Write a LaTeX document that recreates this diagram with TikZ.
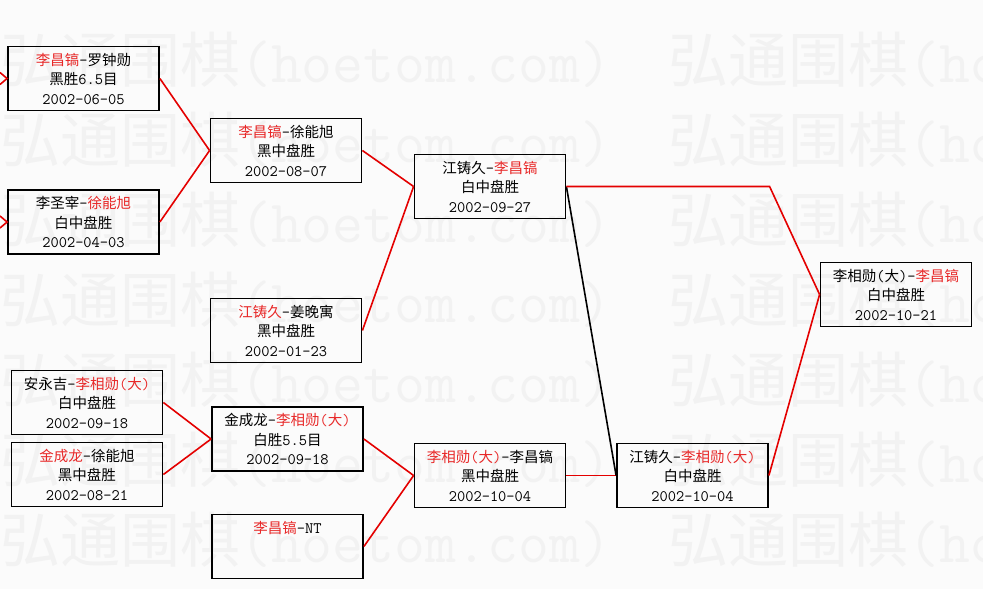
\documentclass[tikz,border=0pt]{standalone}
\usepackage{fontspec}
\setmainfont{Noto Sans CJK SC}
\usepackage{xcolor}
\usetikzlibrary{positioning}

\definecolor{winred}{RGB}{232,40,40}
\definecolor{linered}{RGB}{228,0,0}
\definecolor{paper}{RGB}{251,251,251}
\definecolor{wmgray}{RGB}{242,242,242}
\newcommand{\winner}[1]{\textcolor{winred}{#1}}
\newcommand{\asc}[1]{{\fontsize{16}{19.5}\selectfont\ttfamily #1}}

\tikzset{
  game/.style={draw, line width=1.8pt, minimum width=151pt, minimum height=64pt,
    inner sep=0pt, align=center, font=\fontsize{14.5}{19.5}\selectfont},
  win/.style={draw=linered, line width=1.6pt},
  lose/.style={draw=black, line width=1.6pt},
  wmark/.style={text=wmgray, anchor=west, inner sep=0pt, font=\fontsize{60}{60}\selectfont}
}

\begin{document}
\begin{tikzpicture}[x=1pt, y=1pt, node distance=200pt, on grid]
   \useasboundingbox (0,0) rectangle (983,-589);
   \fill[paper] (0,0) rectangle (983,-589);
   % watermark
   \foreach \r in {0,...,6}
     \foreach \c in {0,668}
       \node[wmark] (wm-\r-\c) at (\c,-60-80*\r) {弘通围棋\texttt{(hoetom.com)}};

   \node[game] (A) at (83.5,-78.5) {\winner{李昌镐}\asc{-}罗钟勋\\黑胜\asc{6.5}目\\\asc{2002-06-05}};
   \node[game] (B) [below=143.5pt of A] {李圣宰\asc{-}\winner{徐能旭}\\白中盘胜\\\asc{2002-04-03}};
   \node[game] (C) [below right=72pt and 202.5pt of A] {\winner{李昌镐}\asc{-}徐能旭\\黑中盘胜\\\asc{2002-08-07}};
   \node[game] (D) [below=180pt of C] {\winner{江铸久}\asc{-}姜晚寓\\黑中盘胜\\\asc{2002-01-23}};
   \node[game] (E) [below right=36pt and 204pt of C] {江铸久\asc{-}\winner{李昌镐}\\白中盘胜\\\asc{2002-09-27}};
   \node[game] (G) at (87,-402.5) {安永吉\asc{-}\winner{李相勋\asc{(}大\asc{)}}\\白中盘胜\\\asc{2002-09-18}};
   \node[game] (H) [below=72pt of G] {\winner{金成龙}\asc{-}徐能旭\\黑中盘胜\\\asc{2002-08-21}};
   \node[game] (I) [below right=36.5pt and 200.5pt of G] {金成龙\asc{-}\winner{李相勋\asc{(}大\asc{)}}\\白胜\asc{5.5}目\\\asc{2002-09-18}};
   \node[game] (J) [below=107.5pt of I] {\winner{李昌镐}\asc{-NT}\\~\\~};
   \node[game] (K) [below right=36.5pt and 202.5pt of I] {\winner{李相勋\asc{(}大\asc{)}}\asc{-}李昌镐\\黑中盘胜\\\asc{2002-10-04}};
   \node[game] (L) [right=202.5pt of K] {江铸久\asc{-}\winner{李相勋\asc{(}大\asc{)}}\\白中盘胜\\\asc{2002-10-04}};
   \node[game] (F) [above right=181pt and 203.5pt of L] {李相勋\asc{(}大\asc{)-}\winner{李昌镐}\\白中盘胜\\\asc{2002-10-21}};

   % earlier rounds off the left edge
   \coordinate (inA1) at (0,-72.5);
   \coordinate (inA2) at (0,-84.5);
   \coordinate (inB1) at (0,-216);
   \coordinate (inB2) at (0,-228);
   \coordinate (bend) at ([xshift=-50pt]F.west);

   \draw[win] (inA1) -- (A.west) -- (inA2);
   \draw[win] (inB1) -- (B.west) -- (inB2);
   \draw[win] (A.east) -- (C.west);
   \draw[win] (B.east) -- (C.west);
   \draw[win] (C.east) -- (E.west);
   \draw[win] (D.east) -- (E.west);
   \draw[win] (G.east) -- (I.west);
   \draw[win] (H.east) -- (I.west);
   \draw[win] (I.east) -- (K.west);
   \draw[win] (J.east) -- (K.west);
   \draw[win] (K.east) -- (L.west);
   \draw[lose] (E.east) -- (L.west);
   \draw[win] (E.east) -- (bend |- E.east) -- (F.west);
   \draw[win] (L.east) -- (F.west);
\end{tikzpicture}
\end{document}
